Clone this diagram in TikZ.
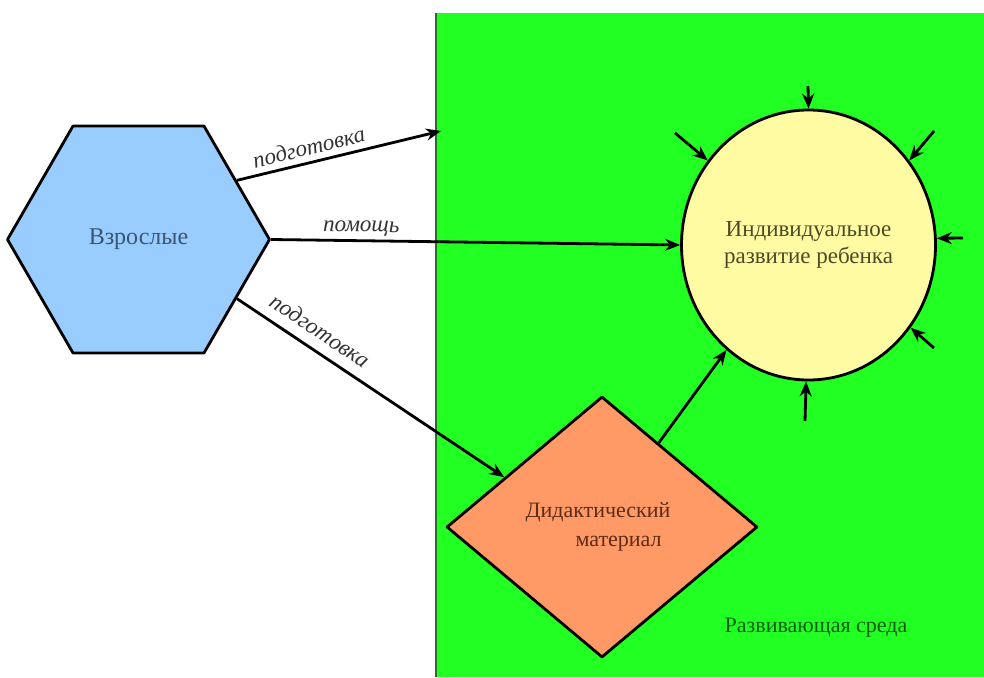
\documentclass[tikz,border=0pt]{standalone}
\usepackage{fontspec}
\setmainfont{Liberation Serif}
\newfontfamily\timesru{Liberation Serif}
\usepackage{tikz}
\usetikzlibrary{arrows.meta,shapes.geometric}
\definecolor{envgreen}{HTML}{22FF22}
\definecolor{envedge}{HTML}{2C6B2C}
\definecolor{hexfill}{HTML}{99CCFF}
\definecolor{hextext}{HTML}{3A5572}
\definecolor{ellfill}{HTML}{FFFBA3}
\definecolor{elltext}{HTML}{4D4A26}
\definecolor{diafill}{HTML}{FF9966}
\definecolor{diatext}{HTML}{5C2C14}
\definecolor{envtext}{HTML}{0B5E0B}
\definecolor{labtext}{HTML}{333333}
\tikzset{
  every picture/.style={line join=round, >={Stealth[length=15pt,width=12pt]}},
  thickline/.style={line width=2.8pt},
  arr/.style={thickline,->},
  adultbox/.style={regular polygon, regular polygon sides=6, minimum size=262pt, inner sep=0pt,
    draw, thickline, fill=hexfill, text=hextext, font=\timesru\fontsize{24}{28}\selectfont},
  childbox/.style={ellipse, minimum width=254pt, minimum height=270pt, inner sep=0pt,
    draw, thickline, fill=ellfill, text=elltext, align=center, font=\timesru\fontsize{23}{27}\selectfont},
  matbox/.style={diamond, aspect=1.19, minimum width=311pt, minimum height=261pt, inner sep=0pt,
    draw, thickline, fill=diafill, text=diatext, align=left, font=\timesru\fontsize{22}{29}\selectfont},
  envbox/.style={rectangle, fill=envgreen, inner sep=0pt, anchor=north west},
  arrlabel/.style={sloped, above, inner sep=5pt, text=labtext, font=\timesru\itshape\fontsize{23}{26}\selectfont},
}

\begin{document}
\begin{tikzpicture}[x=1pt,y=-1pt]
\useasboundingbox (0,0) rectangle (984,677);
% environment
\node[envbox, minimum width=548pt, minimum height=664pt] (env) at (436,13) {};
\draw[envedge, line width=2pt] (env.north west) -- (env.south west);
\node[text=envtext, font=\timesru\fontsize{22}{26}\selectfont, anchor=base] (envname) at (816,632) {Развивающая среда};
% shapes
\node[adultbox] (adult) at (138.5,239.5) {Взрослые};
\node[childbox] (child) at (808.5,245) {Индивидуальное\\развитие ребенка};
\node[matbox] (mat) at (602,527) {\hspace*{-8pt}Дидактический\\\hspace*{42pt}материал};
% arrows from adults
\coordinate (prep) at (441,131);
\draw[arr] (adult.31) -- (prep) node[arrlabel, pos=0.37, inner sep=6pt] {подготовка};
\draw[arr] (adult.0) -- (child.180) node[arrlabel, pos=0.22, inner sep=3pt] {помощь};
\draw[arr] (adult.-31) -- (mat.153) node[arrlabel, pos=0.27, inner sep=10pt] {подготовка};
\draw[arr] (mat.56) -- (child.232);
% outer influences
\coordinate (inN) at (808,86);
\coordinate (inNW) at (675,133);
\coordinate (inNE) at (934,131);
\coordinate (inE) at (963,238);
\coordinate (inSE) at (934,348);
\coordinate (inS) at (805,421);
\draw[arr] (inN) -- (child.90);
\draw[arr] (inNW) -- (child.140);
\draw[arr] (inNE) -- (child.40);
\draw[arr] (inE) -- (child.3);
\draw[arr] (inSE) -- (child.-39);
\draw[arr] (inS) -- (child.-91);
\end{tikzpicture}
\end{document}
